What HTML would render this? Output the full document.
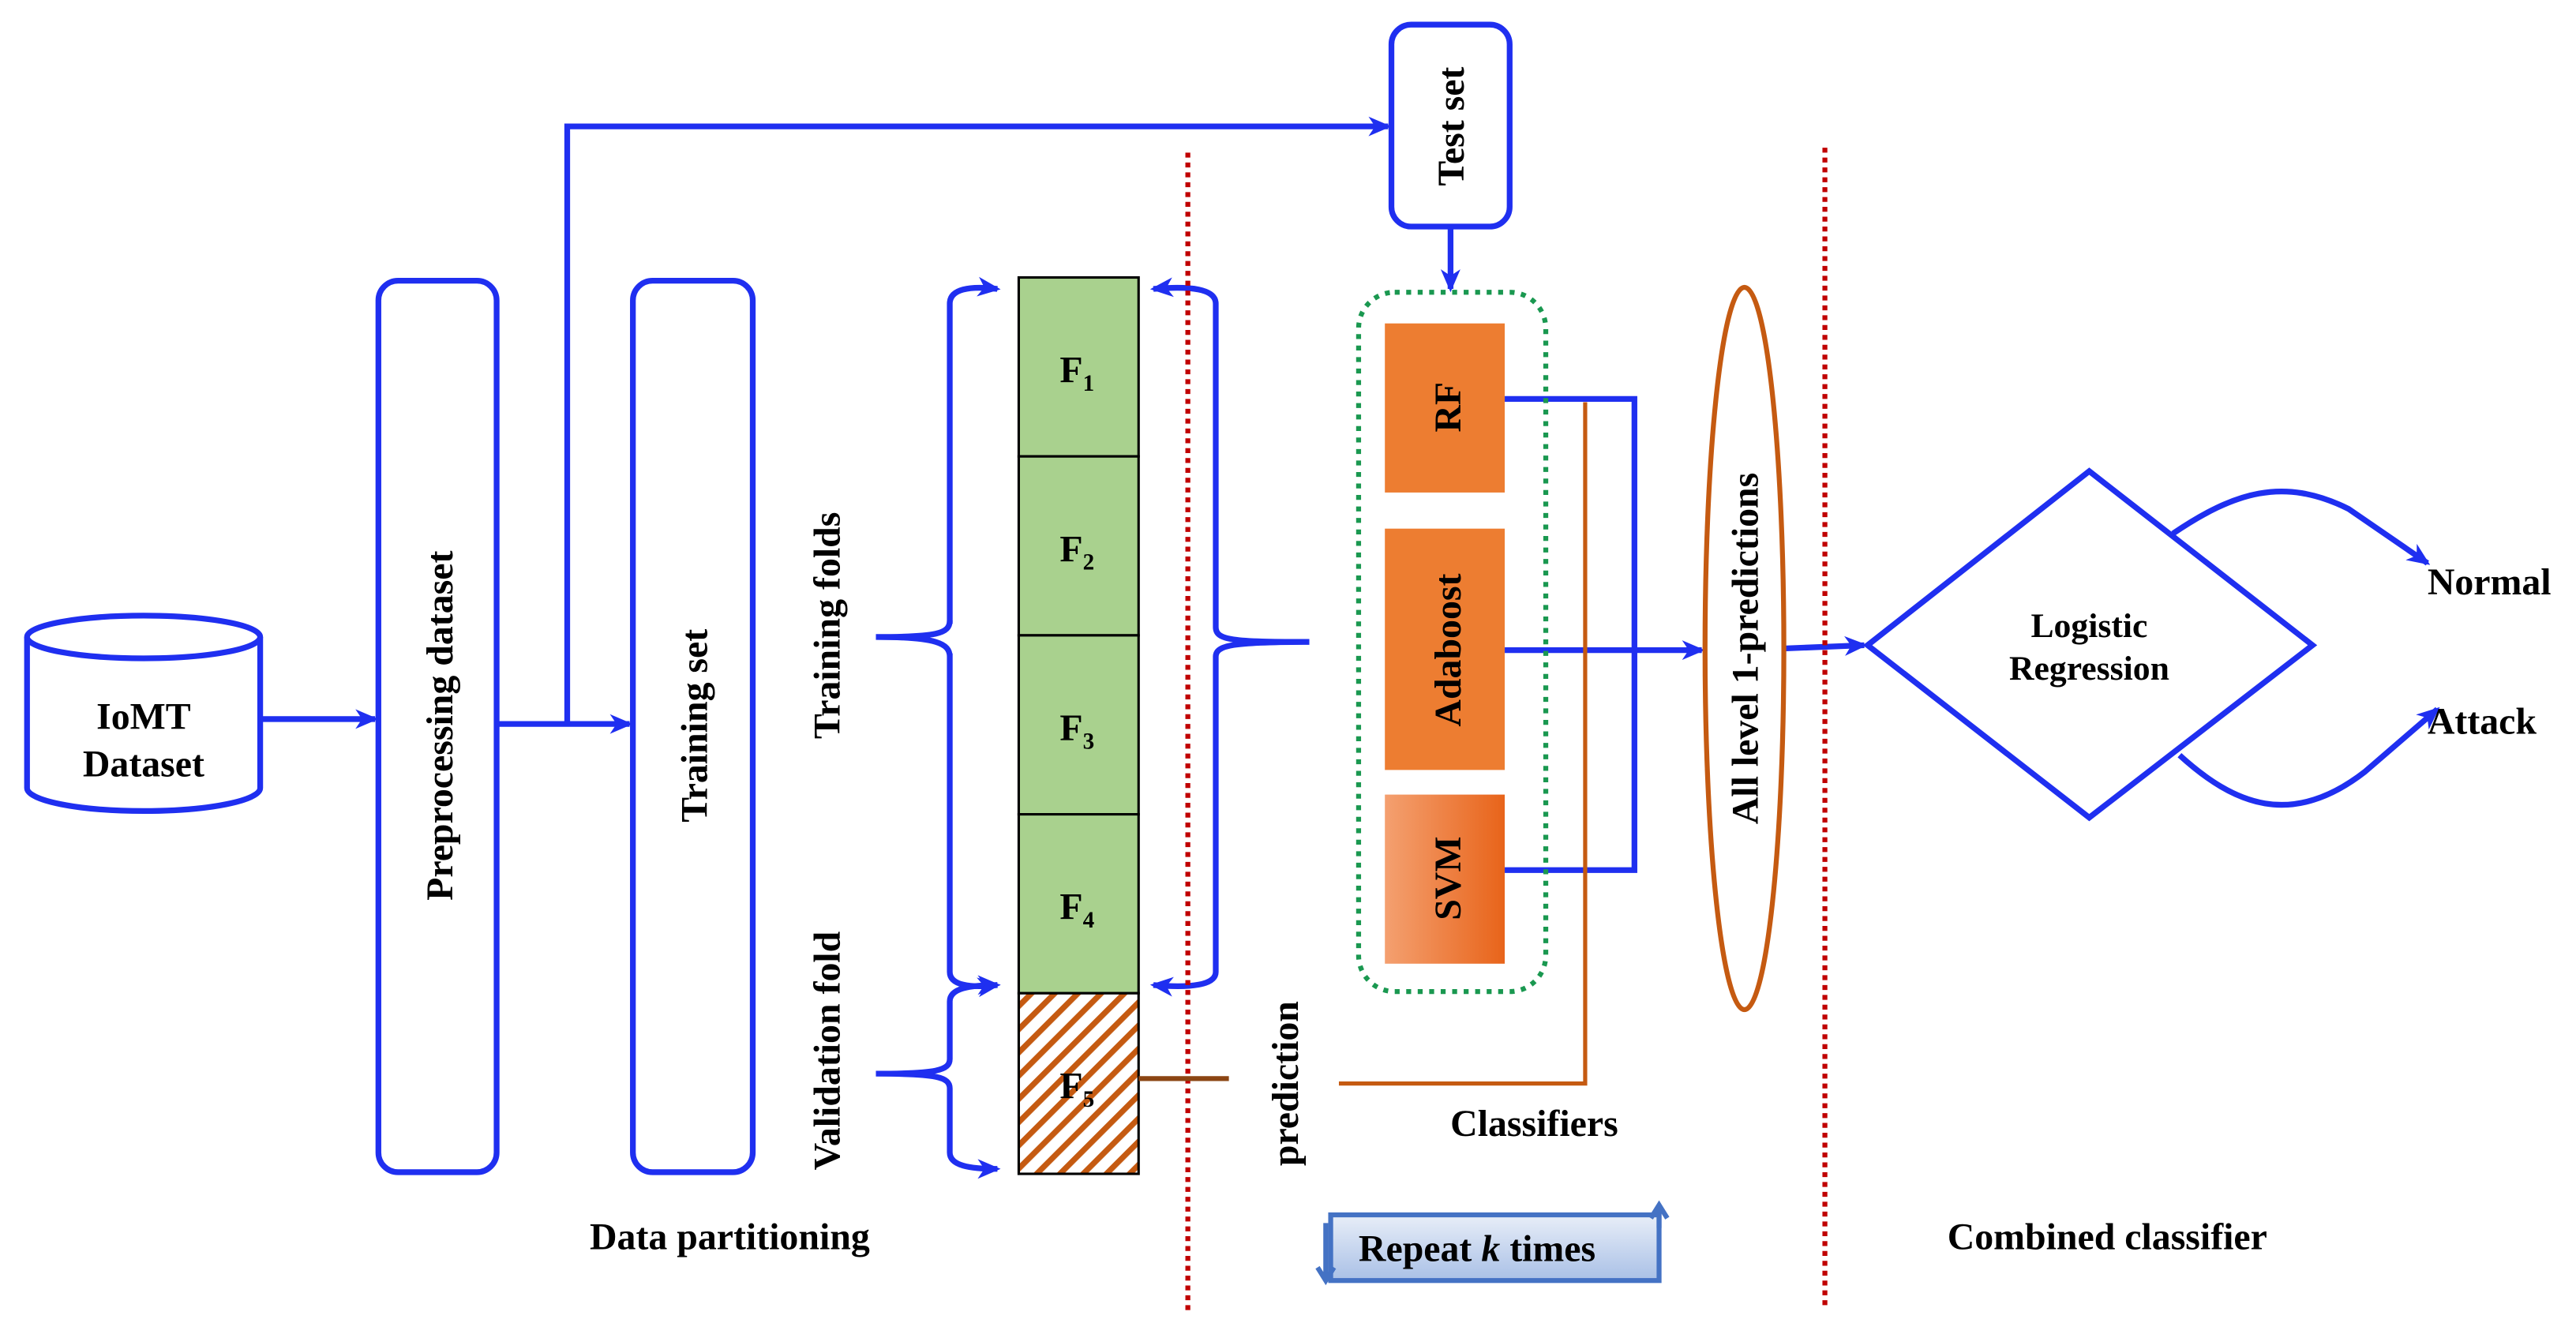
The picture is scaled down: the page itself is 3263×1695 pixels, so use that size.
<!DOCTYPE html>
<html><head><meta charset="utf-8"><style>
html,body{margin:0;padding:0;background:#fff;}
svg{display:block;}
text{font-family:"Liberation Serif",serif;font-weight:bold;fill:#000;}
</style></head><body>
<svg width="3263" height="1695" viewBox="0 0 1568 815" xmlns="http://www.w3.org/2000/svg">
<defs>
<marker id="ar" markerWidth="14" markerHeight="12" refX="12" refY="6" orient="auto" markerUnits="userSpaceOnUse">
<path d="M0,0 L14,6 L0,12 L4,6 z" fill="#1f2ff0"/></marker>
<pattern id="hatch" width="10" height="10" patternUnits="userSpaceOnUse" patternTransform="rotate(45)">
<rect width="10" height="10" fill="#fff"/><rect width="3.5" height="10" fill="#c55a11"/></pattern>
<linearGradient id="svmg" x1="0" x2="1"><stop offset="0" stop-color="#f4a070"/><stop offset="1" stop-color="#e8641a"/></linearGradient>
<linearGradient id="rep" x1="0" y1="0" x2="0" y2="1"><stop offset="0" stop-color="#e8eef8"/><stop offset="1" stop-color="#a9c0e6"/></linearGradient>
</defs>
<g stroke="#1f2ff0" stroke-width="3.5" fill="none">
<path d="M16,388 L16,480 A71,14 0 0 0 158,480 L158,388" fill="#fff"/>
<ellipse cx="87" cy="388" rx="71" ry="13" fill="#fff"/>
<line x1="158" y1="438" x2="228" y2="438" marker-end="url(#ar)"/>
<rect x="230" y="171" width="72" height="543" rx="12"/>
<line x1="302" y1="441" x2="383" y2="441" marker-end="url(#ar)"/>
<polyline points="345,441 345,77 845,77" marker-end="url(#ar)"/>
<rect x="385" y="171" width="73" height="543" rx="12"/>
<rect x="847" y="15" width="72" height="123" rx="12"/>
<line x1="883" y1="138" x2="883" y2="176" marker-end="url(#ar)"/>
<path d="M578,380 L578,185 C578,176 590,174 607,176" marker-end="url(#ar)"/>
<path d="M533,388 C570,388 578,386 578,378 M578,400 C578,392 570,388 533,388 M578,398 L578,592 C578,600 590,602 607,600" marker-end="url(#ar)"/>
<path d="M578,645 L578,610 C578,602 590,600 607,600" marker-end="url(#ar)"/>
<path d="M533,654 C570,654 578,652 578,645 M578,663 C578,656 570,654 533,654 M578,663 L578,702 C578,710 590,712 607,712" marker-end="url(#ar)"/>
<path d="M740,382 L740,185 C740,176 725,174 702,176" marker-end="url(#ar)"/>
<path d="M797,391 C750,391 740,390 740,382 M740,400 C740,393 750,391 797,391 M740,400 L740,592 C740,600 725,602 702,600" marker-end="url(#ar)"/>
<polyline points="916,243 995,243 995,530 916,530"/>
<line x1="916" y1="396" x2="1036" y2="396" marker-end="url(#ar)"/>
<line x1="1086" y1="395" x2="1135" y2="393" marker-end="url(#ar)"/>
<polygon points="1137,393 1272,287 1408,393 1272,498"/>
<path d="M1323,325 C1360,300 1390,290 1430,310 L1478,343" marker-end="url(#ar)"/>
<path d="M1327,460 C1360,490 1395,505 1440,470 L1484,432" marker-end="url(#ar)"/>
</g>
<line x1="723" y1="93" x2="723" y2="798" stroke="#c00000" stroke-width="3" stroke-dasharray="3,3"/>
<line x1="1111" y1="90" x2="1111" y2="795" stroke="#c00000" stroke-width="3" stroke-dasharray="3,3"/>
<g stroke="#000" stroke-width="1.5">
<rect x="620" y="169" width="73" height="109" fill="#a9d18e"/>
<rect x="620" y="278" width="73" height="109" fill="#a9d18e"/>
<rect x="620" y="387" width="73" height="109" fill="#a9d18e"/>
<rect x="620" y="496" width="73" height="109" fill="#a9d18e"/>
<rect x="620" y="605" width="73" height="110" fill="url(#hatch)"/>
</g>
<line x1="693" y1="657" x2="748" y2="657" stroke="#8b4513" stroke-width="3"/>
<rect x="827" y="178" width="114" height="426" rx="22" fill="none" stroke="#1a9850" stroke-width="3" stroke-dasharray="3,4"/>
<rect x="843" y="197" width="73" height="103" fill="#ed7d31"/>
<rect x="843" y="322" width="73" height="147" fill="#ed7d31"/>
<rect x="843" y="484" width="73" height="103" fill="url(#svmg)"/>
<polyline points="965,245 965,660 815,660" fill="none" stroke="#c55a11" stroke-width="2.5"/>
<ellipse cx="1062" cy="395" rx="24" ry="220" fill="none" stroke="#c55a11" stroke-width="3"/>
<rect x="810" y="740" width="200" height="40" fill="url(#rep)" stroke="#4472c4" stroke-width="3"/>
<path d="M1010,748 L1010,735 M1005,742 L1010,734 L1015,742" stroke="#4472c4" stroke-width="3" fill="none"/>
<path d="M807,745 L807,778 M802,772 L807,780 L812,772" stroke="#4472c4" stroke-width="3" fill="none"/>
<g font-size="23">
<text x="87" y="444" text-anchor="middle">IoMT</text>
<text x="87" y="473" text-anchor="middle">Dataset</text>
<text transform="translate(275,442) rotate(-90)" text-anchor="middle">Preprocessing dataset</text>
<text transform="translate(430,442) rotate(-90)" text-anchor="middle">Training set</text>
<text transform="translate(891,77) rotate(-90)" text-anchor="middle">Test set</text>
<text transform="translate(511,381) rotate(-90)" text-anchor="middle">Training folds</text>
<text transform="translate(511,640) rotate(-90)" text-anchor="middle">Validation fold</text>
<text transform="translate(790,660) rotate(-90)" text-anchor="middle">prediction</text>
<text transform="translate(889,248) rotate(-90)" text-anchor="middle">RF</text>
<text transform="translate(889,396) rotate(-90)" text-anchor="middle">Adaboost</text>
<text transform="translate(889,535) rotate(-90)" text-anchor="middle">SVM</text>
<text transform="translate(1070,395) rotate(-90)" text-anchor="middle">All level 1-predictions</text>
<text x="1272" y="388" text-anchor="middle" font-size="21">Logistic</text>
<text x="1272" y="414" text-anchor="middle" font-size="21">Regression</text>
<text x="1478" y="362">Normal</text>
<text x="1478" y="447">Attack</text>
<text x="444" y="761" text-anchor="middle">Data partitioning</text>
<text x="934" y="692" text-anchor="middle">Classifiers</text>
<text x="1283" y="761" text-anchor="middle">Combined classifier</text>
<text x="827" y="768">Repeat <tspan font-style="italic">k</tspan> times</text>
<text x="645" y="233">F<tspan font-size="14" dy="5">1</tspan></text>
<text x="645" y="342">F<tspan font-size="14" dy="5">2</tspan></text>
<text x="645" y="451">F<tspan font-size="14" dy="5">3</tspan></text>
<text x="645" y="560">F<tspan font-size="14" dy="5">4</tspan></text>
<text x="645" y="669">F<tspan font-size="14" dy="5">5</tspan></text>
</g>
</svg>
</body></html>
